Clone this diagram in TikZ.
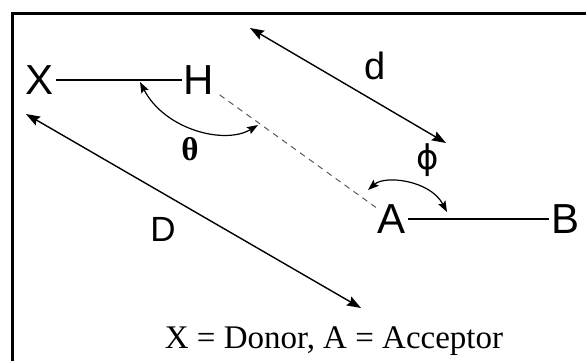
\documentclass[tikz,border=0pt]{standalone}
\usepackage{fontspec}
\setmainfont{Liberation Serif}
\setsansfont{Liberation Sans}
\newfontfamily\symfont{DejaVu Sans}
\usetikzlibrary{arrows.meta}
\begin{document}
\begin{tikzpicture}[x=1pt,y=-1pt,
  atom/.style={font=\sffamily\fontsize{42}{42}\selectfont, inner sep=2pt},
  lbl/.style={font=\sffamily\fontsize{38}{38}\selectfont, inner sep=0pt},
  bond/.style={line width=1.4pt},
  arr/.style={line width=1.4pt, {Stealth[length=14pt,width=10pt,inset=2pt]}-{Stealth[length=14pt,width=10pt,inset=2pt]}},
  arc/.style={line width=1.2pt, {Stealth[length=11pt,width=8pt,inset=2pt]}-{Stealth[length=11pt,width=8pt,inset=2pt]}}]
\useasboundingbox (0,0) rectangle (586,360);
\clip (0,0) rectangle (586,360);
\draw[line width=3pt] (12,13) rectangle (620,400);
\node[atom] (X) at (40,80) {X};
\node[atom] (H) at (199,80) {H};
\node[atom] (A) at (392,219) {A};
\node[atom] (B) at (565,219) {B};
\draw[bond] (X) -- (H);
\draw[bond] (A) -- (B);
\draw[bond, line width=1pt, gray!70!black, dash pattern=on 6pt off 5pt, shorten <=4pt] (H) -- (A);
\coordinate (d1) at (250,28);
\coordinate (d2) at (446,143);
\draw[arr] (d1) -- (d2);
\node[lbl] (dl) at (375,66) {d};
\coordinate (D1) at (26,114);
\coordinate (D2) at (361,308);
\draw[arr] (D1) -- (D2);
\node[lbl, font=\sffamily\fontsize{35}{35}\selectfont] (Dl) at (163,229) {D};
\coordinate (t1) at (140,82);
\coordinate (t2) at (258,125);
\draw[arc] (t1) .. controls (165,130) and (225,145) .. (t2);
\node[inner sep=0pt, font=\bfseries\fontsize{33}{33}\selectfont] (th) at (190,149) {θ};
\coordinate (p1) at (368,190);
\coordinate (p2) at (447,212);
\draw[arc] (p1) .. controls (385,175) and (430,180) .. (p2);
\node[inner sep=0pt, font=\symfont\fontsize{34}{34}\selectfont] (ph) at (428,160) {ϕ};
\node[inner sep=0pt, font=\fontsize{33}{33}\selectfont] (cap) at (334,341) {X = Donor, A = Acceptor};
\end{tikzpicture}
\end{document}
